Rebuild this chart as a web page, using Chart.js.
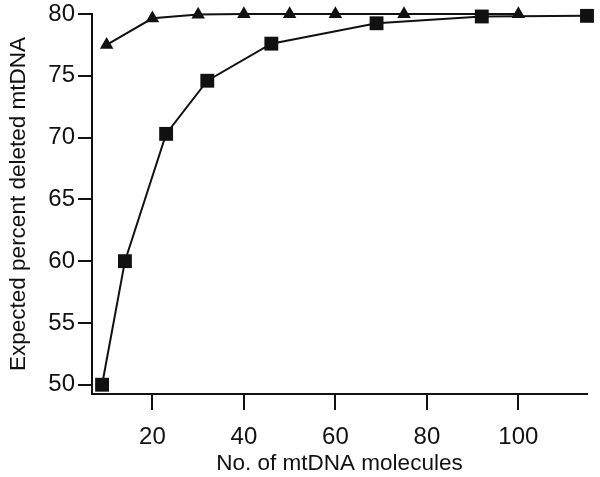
<!DOCTYPE html>
<html>
<head>
<meta charset="utf-8">
<script src="https://cdn.jsdelivr.net/npm/chart.js@4/dist/chart.umd.min.js"></script>
<style>
html,body{margin:0;padding:0;background:#fff;}
#wrap{width:600px;height:477px;position:relative;}
</style>
</head>
<body>
<div id="wrap"><canvas id="c" width="600" height="477"></canvas></div>
<script>
// Data
const squareX = [9, 14, 23, 32, 46, 69, 92, 115];
const squareY = [50, 60, 70.3, 74.6, 77.6, 79.25, 79.8, 79.85];
const triangleX = [10, 20, 30, 40, 50, 60, 75, 100];
const triangleY = [77.5, 79.65, 79.95, 80, 80, 80, 80, 80];
const xTicks = [20, 40, 60, 80, 100];
const yTicks = [50, 55, 60, 65, 70, 75, 80];
const xTitle = 'No. of mtDNA molecules';
const yTitle = 'Expected percent deleted mtDNA';

const ink = '#111111';
const tickFont = {family: '"Liberation Sans", Arial, Helvetica, sans-serif', size: 24};
const titleFont = {family: '"Liberation Sans", Arial, Helvetica, sans-serif', size: 22.5};

function pts(xs, ys){ return xs.map((x,i)=>({x:x, y:ys[i]})); }

new Chart(document.getElementById('c'), {
  type: 'scatter',
  data: {
    datasets: [
      {
        label: 'squares',
        data: pts(squareX, squareY),
        showLine: true,
        borderColor: ink,
        backgroundColor: ink,
        borderWidth: 2,
        pointStyle: 'rect',
        pointRadius: 9.8,
        pointBorderWidth: 0,
        pointBackgroundColor: ink,
        tension: 0
      },
      {
        label: 'triangles',
        data: pts(triangleX, triangleY),
        showLine: true,
        borderColor: ink,
        backgroundColor: ink,
        borderWidth: 2,
        pointStyle: 'triangle',
        pointRadius: 7.8,
        pointBorderWidth: 0,
        pointBackgroundColor: ink,
        tension: 0
      }
    ]
  },
  options: {
    responsive: false,
    animation: false,
    clip: false,
    layout: {padding: {left: 0, right: 13, top: 14, bottom: 0}},
    plugins: {legend: {display: false}, tooltip: {enabled: false}},
    scales: {
      x: {
        type: 'linear',
        min: 6.8,
        max: 115,
        afterBuildTicks: s => { s.ticks = xTicks.map(v => ({value: v})); },
        afterFit: s => { s.height = 477 - 394; s.paddingLeft = 0; s.paddingRight = 0; },
        border: {display: true, color: ink, width: 2},
        grid: {display: true, drawOnChartArea: false, drawTicks: true, tickLength: 16, color: ink, lineWidth: 2},
        ticks: {color: ink, font: tickFont, padding: 13, maxRotation: 0, autoSkip: false},
        title: {display: true, text: xTitle, color: ink, font: titleFont, padding: {top: 0, bottom: 0}}
      },
      y: {
        type: 'linear',
        min: 49.25,
        max: 80,
        afterBuildTicks: s => { s.ticks = yTicks.map(v => ({value: v})); },
        afterFit: s => { s.width = 92; s.paddingTop = 0; s.paddingBottom = 0; },
        border: {display: true, color: ink, width: 2},
        grid: {display: true, drawOnChartArea: false, drawTicks: true, tickLength: 14, color: ink, lineWidth: 2},
        ticks: {color: ink, font: tickFont, padding: 3, autoSkip: false},
        title: {display: true, text: yTitle, color: ink, font: titleFont, padding: {top: 5, bottom: 4}}
      }
    }
  }
});
</script>
</body>
</html>
